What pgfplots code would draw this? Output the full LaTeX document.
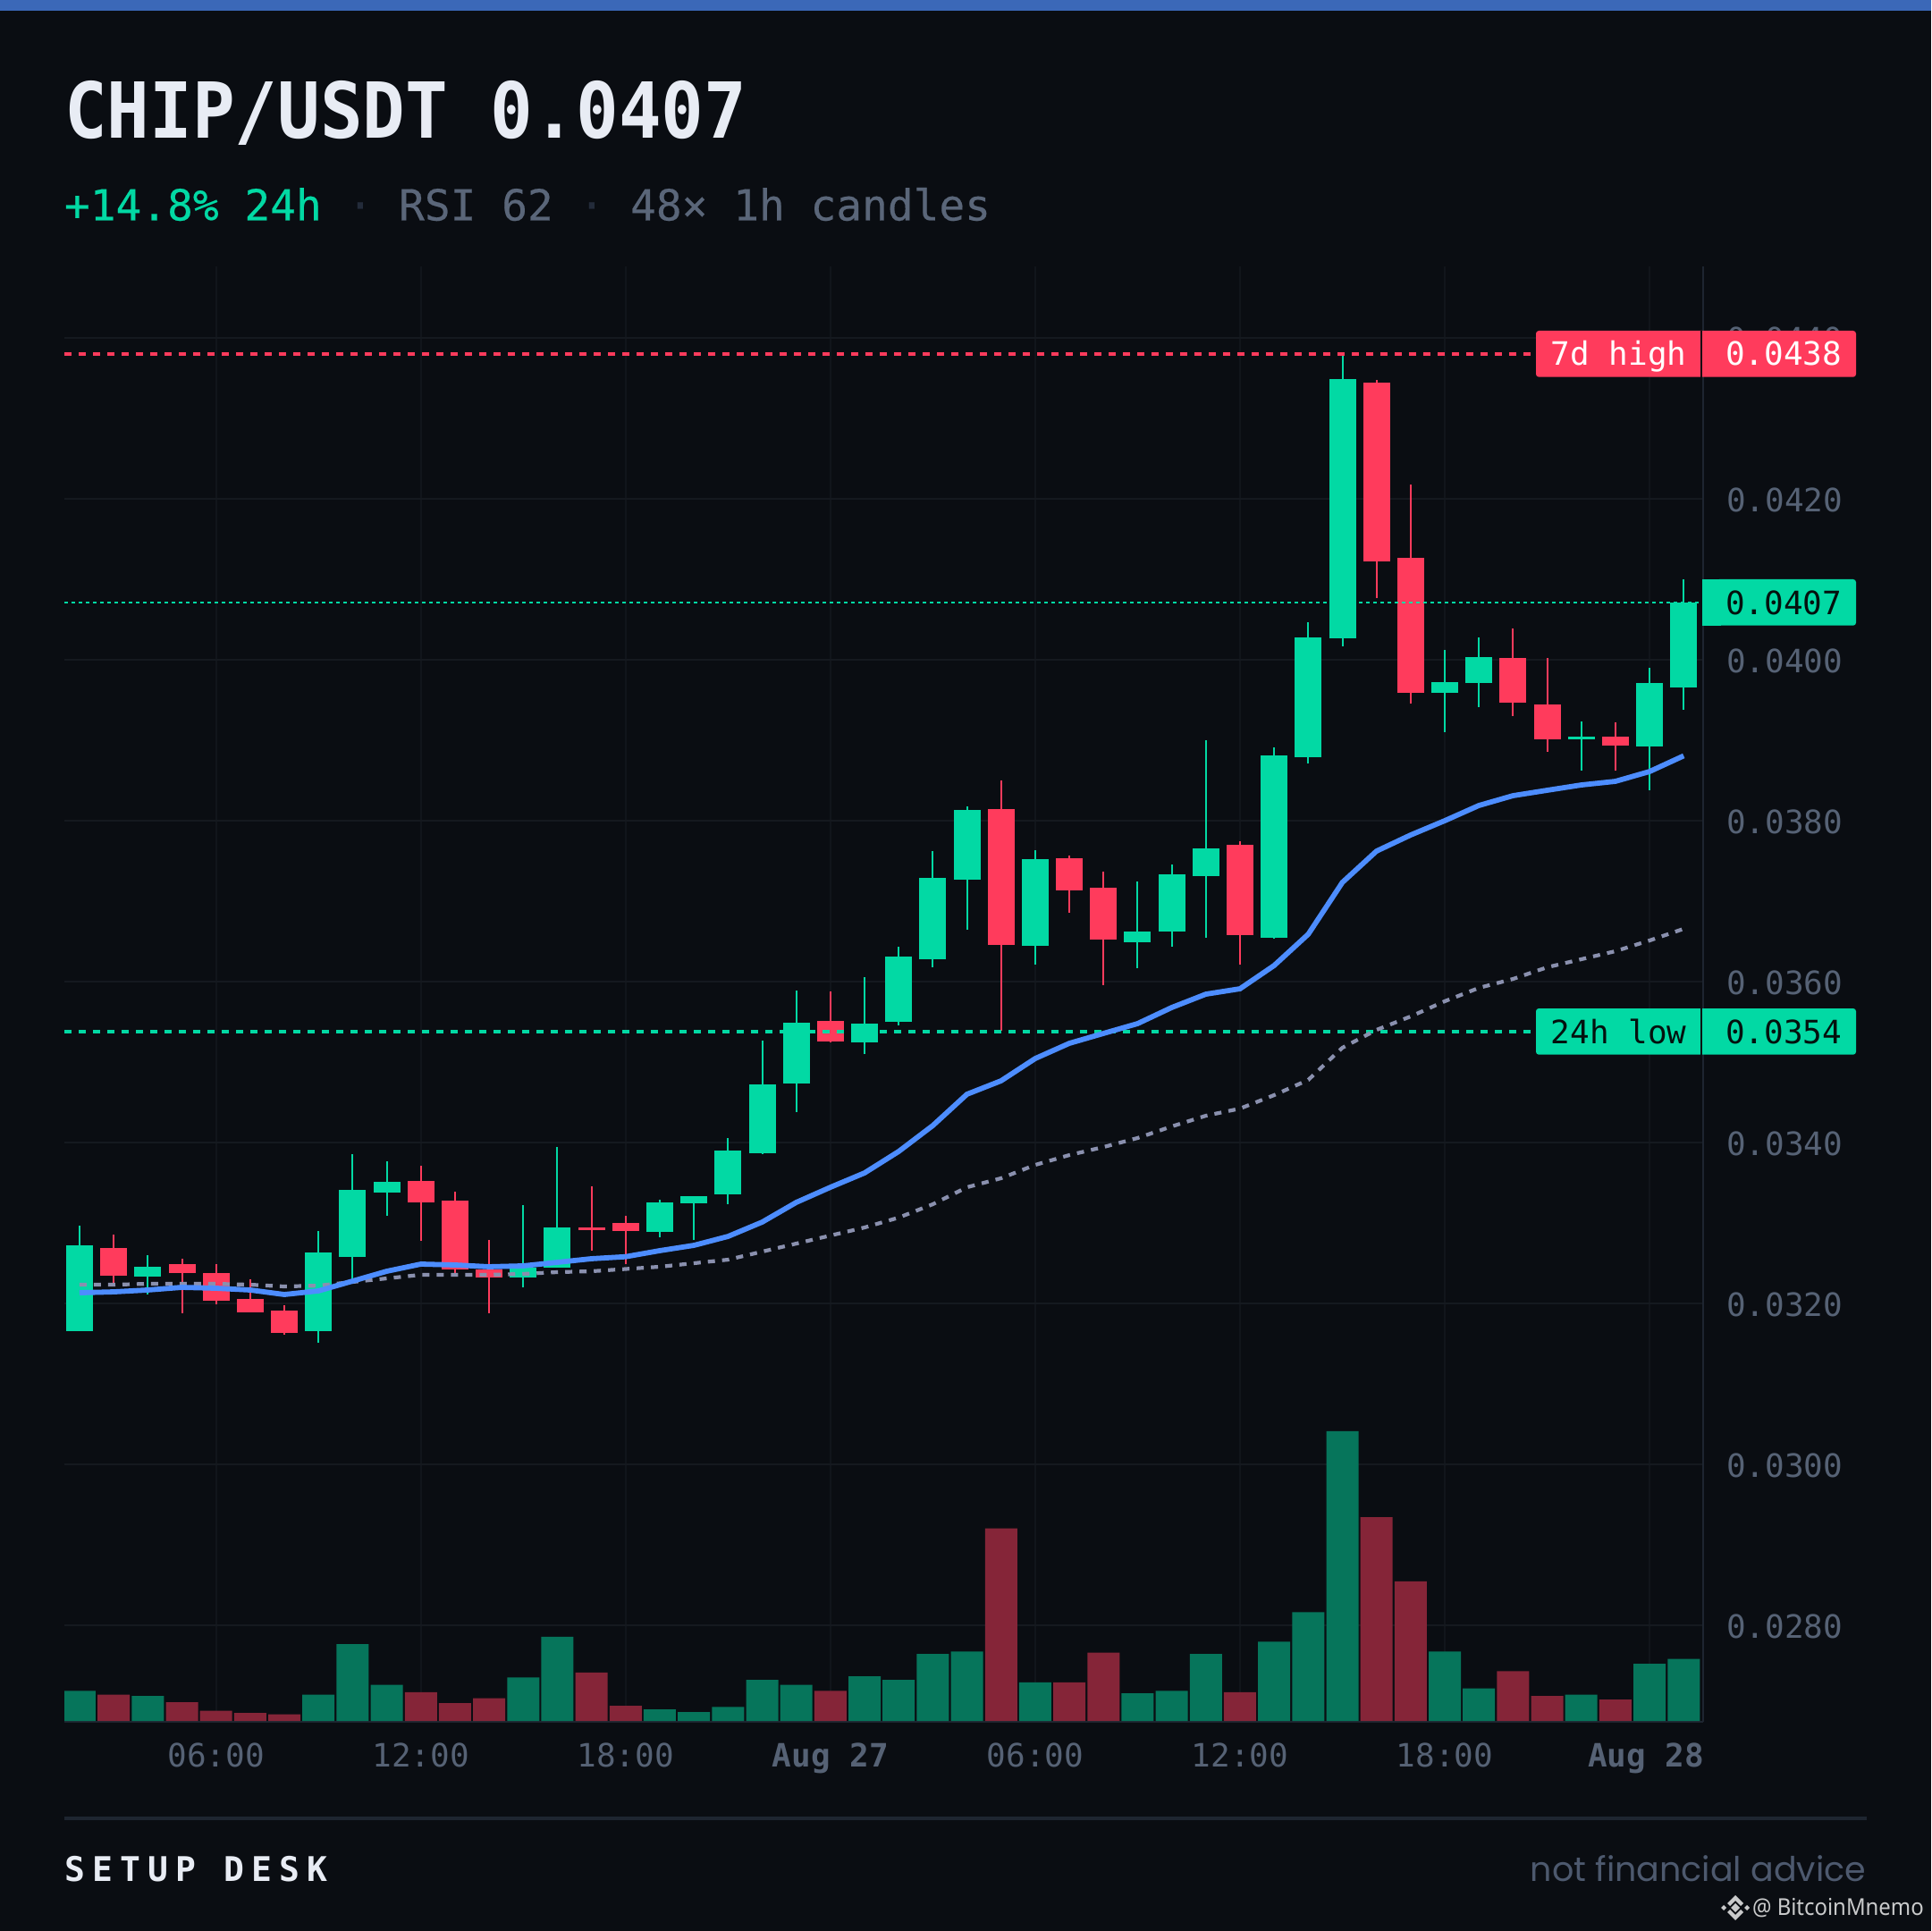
\documentclass[border=0pt]{standalone}
\usepackage{pgfplots}
\usepackage{fontspec}
\pgfplotsset{compat=1.18}
\setmainfont{DejaVu Sans Mono}
\newfontfamily\lspaced[LetterSpace=21.5]{DejaVu Sans Mono}
\newfontfamily\titlefont[FakeStretch=0.917]{DejaVu Sans Mono Bold}
\newfontfamily\medfont[FakeBold=0.4]{DejaVu Sans Mono}
\newfontfamily\footfont{Poppins}
\newfontfamily\markfont[FakeStretch=0.92]{Noto Sans}
\definecolor{bg}{HTML}{0A0D12}
\definecolor{topbar}{HTML}{3B68B8}
\definecolor{titlec}{HTML}{E8ECF4}
\definecolor{upc}{HTML}{02D9A4}
\definecolor{dnc}{HTML}{FF3B5C}
\definecolor{volup}{HTML}{06755B}
\definecolor{voldn}{HTML}{852538}
\definecolor{tickc}{HTML}{566275}
\definecolor{subc}{HTML}{5A6679}
\definecolor{sepc}{HTML}{232B3A}
\definecolor{gridh}{HTML}{15191F}
\definecolor{gridv}{HTML}{11151B}
\definecolor{axisc}{HTML}{1E2530}
\definecolor{bluec}{HTML}{4D8DFF}
\definecolor{grayc}{HTML}{8A90AE}
\definecolor{tagdark}{HTML}{04110E}
\definecolor{footc}{HTML}{4D596E}
% #1 index, #2 open, #3 high, #4 low, #5 close
\newcommand\candleplot[6]{%
  \addplot[#6,line width=0.5pt] coordinates {(#1,#4)(#1,#3)};
  \addplot[#6,line width=7.5pt,line cap=butt] coordinates {(#1,#2)(#1,#5)};}
\newcommand\up[5]{\candleplot{#1}{#2}{#3}{#4}{#5}{upc}}
\newcommand\dn[5]{\candleplot{#1}{#2}{#3}{#4}{#5}{dnc}}
\pgfplotsset{panel/.style={scale only axis,width=458.25pt,xmin=-0.445,xmax=47.57,clip=true}}
\begin{document}
\begin{tikzpicture}
\useasboundingbox (0,0) rectangle (540pt,-540pt);
\fill[bg] (0,0) rectangle (540pt,-540pt);
\fill[topbar] (0,0) rectangle (540pt,-3pt);
% price grid, ticks and axis lines
\begin{axis}[panel,at={(18pt,-481.5pt)},anchor=south west,height=407pt,
  ymin=0.0268,ymax=0.044889,
  axis y line*=right,axis x line*=bottom,
  axis line style={-,draw=axisc,line width=0.6pt},
  xtick={4,10,16,22,28,34,40,46},
  xticklabels={06:00,12:00,18:00,\textbf{Aug 27},06:00,12:00,18:00,\textbf{Aug 28}\rule{2pt}{0pt}},
  ytick={0.028,0.030,0.032,0.034,0.036,0.038,0.040,0.042,0.044},
  scaled y ticks=false,
  major tick length=0pt,
  grid=major,
  x grid style={gridv,line width=0.45pt},
  y grid style={gridh,line width=0.5pt},
  tick style={draw=none},
  tick label style={font=\fontsize{9}{9}\selectfont,text=tickc,inner sep=0pt},
  yticklabel style={anchor=base west,xshift=6.35pt,yshift=-3.55pt,
    /pgf/number format/.cd,fixed,fixed zerofill,precision=4,assume math mode=true},
  xticklabel style={anchor=base,yshift=-12.6pt},
]
\end{axis}
% volume
\begin{axis}[panel,at={(18pt,-481.25pt)},anchor=south west,height=406.75pt,ymin=0,ymax=1627,hide axis]
\addplot[ybar,bar width=9pt,bar shift=0pt,fill=volup,draw=none] coordinates {
(0,33.6)(2,28)(7,29.4)(8,86)(9,40.4)(13,48.7)(14,94.2)(17,13)(18,10)(19,15.6)(20,46)(21,40.4)
(23,50)(24,46)(25,75)(26,77.6)(28,43.2)(31,30.8)(32,33.6)(33,75)(35,88.7)(36,121.7)(37,324.2)
(40,77.6)(41,36.3)(44,29.4)(46,63.8)(47,69.4)};
\addplot[ybar,bar width=9pt,bar shift=0pt,fill=voldn,draw=none] coordinates {
(1,29.4)(3,21)(4,11.5)(5,8.8)(6,7.4)(10,32.2)(11,19.8)(12,25.3)(15,54.2)(16,17)(22,33.6)(27,215.4)
(29,43.2)(30,76.3)(34,32.2)(38,227.8)(39,156.2)(42,55.6)(43,28)(45,24)};
\end{axis}
% candles and lines
\begin{axis}[panel,at={(18pt,-481.5pt)},anchor=south west,height=407pt,ymin=0.0268,ymax=0.044889,hide axis]
\up{0}{.031656}{.032967}{.031656}{.032722}
\dn{1}{.032689}{.032856}{.032256}{.032344}
\up{2}{.032333}{.032600}{.032111}{.032456}
\dn{3}{.032489}{.032556}{.031878}{.032378}
\dn{4}{.032378}{.032489}{.031989}{.032033}
\dn{5}{.032056}{.032300}{.031889}{.031889}
\dn{6}{.031911}{.031978}{.031611}{.031633}
\up{7}{.031656}{.032900}{.031511}{.032633}
\up{8}{.032578}{.033856}{.032289}{.033411}
\up{9}{.033378}{.033767}{.033089}{.033511}
\dn{10}{.033522}{.033711}{.032778}{.033256}
\dn{11}{.033278}{.033389}{.032378}{.032422}
\dn{12}{.032422}{.032789}{.031878}{.032322}
\up{13}{.032322}{.033222}{.032200}{.032444}
\up{14}{.032444}{.033944}{.032444}{.032944}
\dn{15}{.032944}{.033456}{.032656}{.032911}
\dn{16}{.033000}{.033089}{.032489}{.032900}
\up{17}{.032889}{.033289}{.032822}{.033256}
\up{18}{.033244}{.033333}{.032789}{.033333}
\up{19}{.033356}{.034056}{.033233}{.033900}
\up{20}{.033867}{.035267}{.033856}{.034722}
\up{21}{.034733}{.035889}{.034378}{.035489}
\dn{22}{.035511}{.035878}{.035244}{.035256}
\up{23}{.035244}{.036056}{.035100}{.035478}
\up{24}{.035500}{.036433}{.035456}{.036311}
\up{25}{.036278}{.037622}{.036178}{.037289}
\up{26}{.037267}{.038178}{.036644}{.038133}
\dn{27}{.038144}{.038500}{.035389}{.036456}
\up{28}{.036444}{.037639}{.036211}{.037522}
\dn{29}{.037533}{.037567}{.036856}{.037133}
\dn{30}{.037167}{.037367}{.035956}{.036522}
\up{31}{.036489}{.037244}{.036172}{.036622}
\up{32}{.036622}{.037456}{.036438}{.037333}
\up{33}{.037311}{.039000}{.036550}{.037656}
\dn{34}{.037700}{.037744}{.036211}{.036578}
\up{35}{.036544}{.038911}{.036533}{.038811}
\up{36}{.038789}{.040467}{.038711}{.040278}
\up{37}{.040267}{.043778}{.040172}{.043489}
\dn{38}{.043444}{.043483}{.040767}{.041222}
\dn{39}{.041267}{.042178}{.039456}{.039589}
\up{40}{.039589}{.040122}{.039100}{.039722}
\up{41}{.039711}{.040278}{.039411}{.040033}
\dn{42}{.040022}{.040389}{.039300}{.039467}
\dn{43}{.039444}{.040022}{.038856}{.039011}
\up{44}{.039011}{.039233}{.038622}{.039044}
\dn{45}{.039044}{.039222}{.038622}{.038933}
\up{46}{.038922}{.039900}{.038378}{.039711}
\up{47}{.039656}{.041000}{.039378}{.040711}
% reference levels
\addplot[dnc,line width=1.05pt,dash pattern=on 2.1pt off 1.9pt] coordinates {(-0.445,0.0438)(42.52,0.0438)};
\addplot[upc,line width=1.05pt,dash pattern=on 2.1pt off 1.9pt] coordinates {(-0.445,0.03538)(42.52,0.03538)};
\addplot[upc,line width=0.5pt,dash pattern=on 1pt off 1pt] coordinates {(-0.445,0.04071)(47.45,0.04071)};
% slow average
\addplot[grayc,line width=1.05pt,dash pattern=on 2pt off 2pt] coordinates {
(0,.032233)(1,.032233)(2,.032244)(3,.032244)(4,.032244)(5,.032233)(6,.032211)(7,.032222)
(8,.032267)(9,.032311)(10,.032356)(11,.032356)(12,.032356)(13,.032367)(14,.032389)(15,.032400)
(16,.032428)(17,.032456)(18,.032500)(19,.032544)(20,.032644)(21,.032744)(22,.032844)(23,.032944)
(24,.033067)(25,.033233)(26,.033444)(27,.033556)(28,.033722)(29,.033844)(30,.033944)(31,.034056)
(32,.034200)(33,.034333)(34,.034422)(35,.034589)(36,.034778)(37,.035178)(38,.035400)(39,.035567)
(40,.035756)(41,.035922)(42,.036033)(43,.036178)(44,.036278)(45,.036378)(46,.036511)(47,.036656)};
% fast average
\addplot[bluec,line width=1.45pt] coordinates {
(0,.032133)(1,.032144)(2,.032167)(3,.032200)(4,.032189)(5,.032167)(6,.032111)(7,.032156)
(8,.032278)(9,.032400)(10,.032489)(11,.032478)(12,.032456)(13,.032467)(14,.032511)(15,.032556)
(16,.032581)(17,.032656)(18,.032722)(19,.032833)(20,.033011)(21,.033256)(22,.033444)(23,.033622)
(24,.033889)(25,.034211)(26,.034600)(27,.034767)(28,.035044)(29,.035233)(30,.035356)(31,.035478)
(32,.035678)(33,.035844)(34,.035911)(35,.036200)(36,.036589)(37,.037233)(38,.037622)(39,.037822)
(40,.038000)(41,.038189)(42,.038311)(43,.038378)(44,.038444)(45,.038489)(46,.038611)(47,.038806)};
\end{axis}
% tags, headings and footer, positions in reference pixels
\begin{scope}[x=0.25pt,y=-0.25pt,every node/.style={inner sep=0pt,outer sep=0pt}]
\fill[dnc,rounded corners=0.8pt] (1718,370) rectangle (2076,421.7);
\fill[bg] (1902,370) rectangle (1904,421.7);
\fill[upc,rounded corners=0.8pt] (1718,1128) rectangle (2076,1179.7);
\fill[bg] (1902,1128) rectangle (1904,1179.7);
\fill[upc,rounded corners=0.8pt] (1920,648) rectangle (2076,699.7);
\fill[upc] (1904,648) rectangle (1925,699.7);
\def\tagfont{\fontsize{9}{9}\selectfont}
\node[anchor=base,text=white,font=\tagfont] at (1810.5,408.5) {7d high};
\node[anchor=base west,text=white,font=\tagfont] at (1930,408.5) {0.0438};
\node[anchor=base west,text=tagdark,font=\tagfont] at (1930,687) {0.0407};
\node[anchor=base,text=tagdark,font=\tagfont] at (1810.5,1167) {24h low};
\node[anchor=base west,text=tagdark,font=\tagfont] at (1930,1167) {0.0354};
\node[anchor=base west,text=titlec,font=\fontsize{21.6}{21.6}\selectfont\titlefont] at (72,155) {CHIP/USDT 0.0407};
\node[anchor=base west,font=\fontsize{11.95}{12}\selectfont\medfont] at (72,246.5) {\textcolor{upc}{+14.8\% 24h} \textcolor{sepc}{·} \textcolor{subc}{RSI 62} \textcolor{sepc}{·} \textcolor{subc}{48× 1h candles}};
\fill[axisc] (72,2032) rectangle (2088,2036);
\node[anchor=base west,text=titlec,font=\fontsize{9.5}{9.5}\selectfont\lspaced\bfseries] at (72,2104) {SETUP DESK};
\node[anchor=base east,text=footc,font=\fontsize{9.5}{9.5}\selectfont\footfont] at (2087,2104) {not financial advice};
\node[anchor=base west,text=white!78!bg,font=\fontsize{6.5}{6.5}\selectfont\markfont] at (1960,2142) {@ BitcoinMnemo};
\begin{scope}[shift={(1941,2134)}]
\fill[white!78!bg] (0,-5) -- (5,0) -- (0,5) -- (-5,0) -- cycle;
\fill[white!78!bg] (0,-14) -- (9,-5) -- (6,-2) -- (0,-8) -- (-6,-2) -- (-9,-5) -- cycle;
\fill[white!78!bg] (0,14) -- (9,5) -- (6,2) -- (0,8) -- (-6,2) -- (-9,5) -- cycle;
\fill[white!78!bg] (-13,-3) -- (-10,0) -- (-13,3) -- (-16,0) -- cycle;
\fill[white!78!bg] (13,-3) -- (10,0) -- (13,3) -- (16,0) -- cycle;
\end{scope}
\end{scope}
\end{tikzpicture}
\end{document}
